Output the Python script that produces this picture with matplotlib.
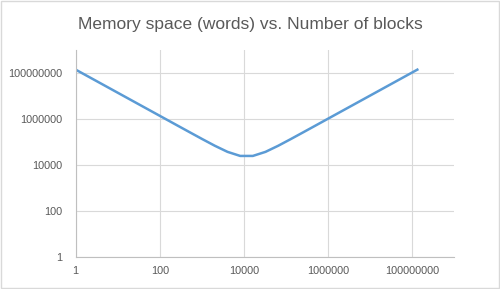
import matplotlib
matplotlib.use('Agg')
import matplotlib.pyplot as plt
from matplotlib.patches import Rectangle

# number of blocks and memory space (words) for each
blocks = [1, 2, 4, 8, 16, 32, 64, 128, 256, 512, 1024, 2048, 4096, 8192,
          16384, 32768, 65536, 131072, 262144, 524288, 1048576, 2097152,
          4194304, 8388608, 16777216, 33554432, 67108864, 134217728]
memory = [134217729, 67108866, 33554436, 16777224, 8388624, 4194336, 2097216,
          1048704, 524544, 262656, 132096, 67584, 36864, 24576,
          24576, 36864, 67584, 132096, 262656, 524544, 1048704, 2097216,
          4194336, 8388624, 16777224, 33554436, 67108866, 134217729]
ticks = [1, 100, 10000, 1000000, 100000000]
tick_labels = ['1', '100', '10000', '1000000', '100000000']

plt.rcParams['font.family'] = ['Liberation Sans', 'DejaVu Sans']
txt = '#595959'

fig = plt.figure(figsize=(5, 2.89), dpi=100)
ax = fig.add_axes([0.1514, 0.1097, 0.7566, 0.719])

ax.plot(blocks, memory, color='#5B9BD5', lw=1.8, solid_joinstyle='round')
ax.set_xscale('log')
ax.set_yscale('log')
ax.set_xlim(1, 1e9)
ax.set_ylim(1, 1e9)
ax.set_xticks(ticks)
ax.set_xticklabels(tick_labels)
ax.set_yticks(ticks)
ax.set_yticklabels(tick_labels)
ax.minorticks_off()
ax.tick_params(length=0, labelsize=7.8, labelcolor=txt)
ax.tick_params(axis='y', pad=10)
ax.tick_params(axis='x', pad=6)
ax.grid(True, color='#D9D9D9', lw=0.8)
ax.set_axisbelow(True)
for s in ['top', 'right']:
    ax.spines[s].set_visible(False)
for s in ['left', 'bottom']:
    ax.spines[s].set_color('#BFBFBF')
    ax.spines[s].set_linewidth(0.8)

fig.text(0.5, 0.915, 'Memory space (words) vs. Number of blocks',
         ha='center', va='center', fontsize=12.5, color=txt)
fig.patches.append(Rectangle((0.002, 0.003), 0.996, 0.994, transform=fig.transFigure,
                             fill=False, edgecolor='#D9D9D9', lw=1))

fig.savefig('out.png', dpi=100)
